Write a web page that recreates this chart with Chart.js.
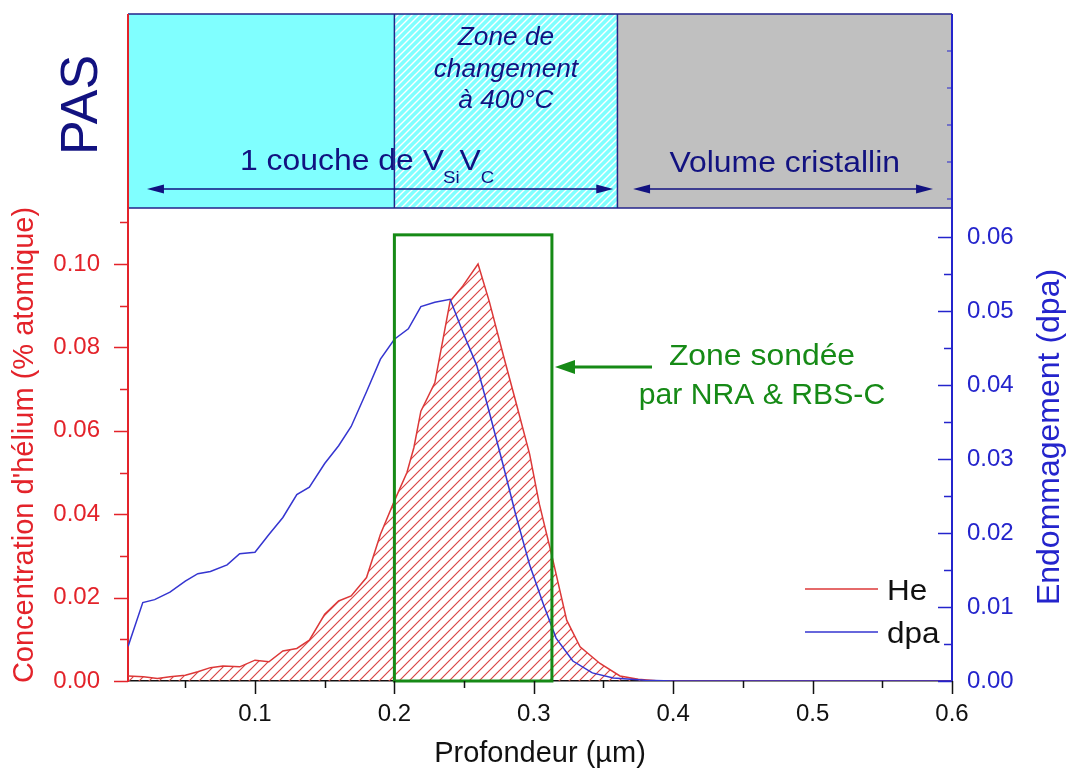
<!DOCTYPE html>
<html>
<head>
<meta charset="utf-8">
<script src="https://cdn.jsdelivr.net/npm/chart.js@4.4.0/dist/chart.umd.min.js"></script>
<style>
  html, body { margin: 0; padding: 0; background: #fff; }
  #grafico { display: block; }
</style>
</head>
<body>
<canvas id="grafico" width="1071" height="769"></canvas>
<script>
// profil He : profondeur (µm) / concentration (% atomique)
const profHe = [0.009, 0.02, 0.03, 0.039, 0.05, 0.059, 0.068, 0.077, 0.089, 0.100, 0.110, 0.120, 0.130, 0.139,
    0.150, 0.160, 0.169, 0.180, 0.190, 0.200, 0.209, 0.214, 0.219, 0.229, 0.240, 0.249, 0.260, 0.268, 0.278,
    0.287, 0.297, 0.304, 0.313, 0.3236, 0.3332, 0.3475, 0.3618, 0.375, 0.39, 0.45, 0.5, 0.6];
const valHe = [0.0012, 0.0010, 0.0006, 0.0010, 0.0014, 0.0022, 0.0032, 0.0036, 0.0034, 0.0050, 0.0046, 0.0072, 0.0078, 0.0098,
    0.0160, 0.0192, 0.0204, 0.0248, 0.0352, 0.0432, 0.0500, 0.0560, 0.0647, 0.0715, 0.0911, 0.0947, 0.1000, 0.0911, 0.0783,
    0.0671, 0.0544, 0.0424, 0.0300, 0.0146, 0.0082, 0.0042, 0.0012, 0.0004, 0, 0, 0, 0];

// profil de dommages : profondeur (µm) / dpa
const profDpa = [0.009, 0.0195, 0.028, 0.039, 0.050, 0.059, 0.068, 0.080, 0.089, 0.100, 0.110, 0.120, 0.130, 0.139,
    0.150, 0.160, 0.169, 0.180, 0.190, 0.200, 0.210, 0.219, 0.229, 0.240, 0.249, 0.259, 0.268, 0.278, 0.287,
    0.297, 0.307, 0.316, 0.328, 0.342, 0.357, 0.38, 0.40, 0.5, 0.6];
const valDpa = [0.0047, 0.0106, 0.0110, 0.0120, 0.0135, 0.0145, 0.0148, 0.0157, 0.0172, 0.0174, 0.0198, 0.0221, 0.0252, 0.0262,
    0.0294, 0.0318, 0.0344, 0.0391, 0.0435, 0.0462, 0.0476, 0.0506, 0.0512, 0.0516, 0.0472, 0.0427, 0.0364, 0.0292, 0.0225,
    0.0157, 0.0103, 0.0058, 0.0027, 0.0011, 0.0004, 0.0001, 0, 0, 0];

// graduations
const xTicks = [0.1, 0.2, 0.3, 0.4, 0.5, 0.6];
const xMinor = [0.05, 0.15, 0.25, 0.35, 0.45, 0.55];
const heTicks = [0, 0.02, 0.04, 0.06, 0.08, 0.10];
const heMinor = [0.01, 0.03, 0.05, 0.07, 0.09, 0.11];
const dpaTicks = [0, 0.01, 0.02, 0.03, 0.04, 0.05, 0.06];
const dpaMinor = [0.005, 0.015, 0.025, 0.035, 0.045, 0.055];

// bandeau PAS : limites des zones en profondeur
const zoneLimites = [0.0089, 0.2, 0.36, 0.6];
const flecheCouche = [0.0225, 0.357];
const flecheVolume = [0.3712, 0.5864];
// zone sondée NRA / RBS-C
const zoneSondee = [0.2, 0.313];
const zoneSondeeHaut = 0.107;
const flecheSondee = [0.3848, 0.3152];   // queue -> pointe
const flecheSondeeY = 0.0753;

const police = "'Liberation Sans', Arial, sans-serif";
const rouge = '#e3232a';
const bleu = '#2424cc';
const marine = '#121280';
const vert = '#168a16';

const ctxPrincipal = document.getElementById('grafico').getContext('2d');

function hachures(couleur, fond, pas, ep) {
    const c = document.createElement('canvas');
    c.width = pas; c.height = pas;
    const g = c.getContext('2d');
    if (fond) { g.fillStyle = fond; g.fillRect(0, 0, pas, pas); }
    g.strokeStyle = couleur; g.lineWidth = ep;
    g.beginPath();
    g.moveTo(-1, pas + 1); g.lineTo(pas + 1, -1);
    g.moveTo(-1, 1); g.lineTo(1, -1);
    g.moveTo(pas - 1, pas + 1); g.lineTo(pas + 1, pas - 1);
    g.stroke();
    return ctxPrincipal.createPattern(c, 'repeat');
}

const motifHe = hachures('#d94545', null, 10, 1.2);
const motifBande = hachures('#ffffff', '#80ffff', 7, 1.4);

function texte(ctx, str, x, y, font, color, align, sx) {
    ctx.save();
    ctx.font = font;
    ctx.fillStyle = color;
    ctx.textBaseline = 'alphabetic';
    ctx.textAlign = 'left';
    const w = ctx.measureText(str).width * sx;
    let x0 = x;
    if (align === 'center') x0 = x - w / 2;
    else if (align === 'right') x0 = x - w;
    ctx.translate(x0, y);
    ctx.scale(sx, 1);
    ctx.fillText(str, 0, 0);
    ctx.restore();
    return w;
}

function texteVertical(ctx, str, x, y, font, color) {
    ctx.save();
    ctx.translate(x, y);
    ctx.rotate(-Math.PI / 2);
    ctx.font = font;
    ctx.fillStyle = color;
    ctx.textAlign = 'center';
    ctx.textBaseline = 'middle';
    ctx.fillText(str, 0, 0);
    ctx.restore();
}

function pointe(ctx, xTip, y, dir, long, demi) {
    ctx.beginPath();
    ctx.moveTo(xTip, y);
    ctx.lineTo(xTip - dir * long, y - demi);
    ctx.lineTo(xTip - dir * long, y + demi);
    ctx.closePath();
    ctx.fill();
}

function traits(ctx, scale, valeurs, long, couleur, cote) {
    const area = scale.chart.chartArea;
    ctx.save();
    ctx.strokeStyle = couleur;
    ctx.lineWidth = 1.5;
    ctx.beginPath();
    valeurs.forEach(function (v) {
        const p = Math.round(scale.getPixelForValue(v)) + 0.5;
        if (cote === 'gauche') { ctx.moveTo(area.left, p); ctx.lineTo(area.left - long, p); }
        else if (cote === 'droite') { ctx.moveTo(area.right, p); ctx.lineTo(area.right - long, p); }
        else { ctx.moveTo(p, area.bottom); ctx.lineTo(p, area.bottom + long); }
    });
    ctx.stroke();
    ctx.restore();
}

const decor = {
    id: 'decor',
    afterDatasetsDraw(chart) {
        const ctx = chart.ctx;
        const x = chart.scales.x, yHe = chart.scales.yHe;
        ctx.save();
        // cadre de la zone sondée
        const gx1 = x.getPixelForValue(zoneSondee[0]), gx2 = x.getPixelForValue(zoneSondee[1]);
        const gy1 = yHe.getPixelForValue(zoneSondeeHaut), gy2 = yHe.getPixelForValue(0);
        ctx.strokeStyle = vert; ctx.fillStyle = vert; ctx.lineWidth = 3;
        ctx.strokeRect(gx1, gy1, gx2 - gx1, gy2 - gy1);
        // flèche verte
        const fy = yHe.getPixelForValue(flecheSondeeY);
        const fq = x.getPixelForValue(flecheSondee[0]), fp = x.getPixelForValue(flecheSondee[1]);
        ctx.beginPath(); ctx.moveTo(fq, fy); ctx.lineTo(fp + 15, fy); ctx.stroke();
        pointe(ctx, fp, fy, -1, 20, 7);
        texte(ctx, 'Zone sondée', 762, fy - 2, '29px ' + police, vert, 'center', 1.1);
        texte(ctx, 'par NRA & RBS-C', 762, fy + 37, '29px ' + police, vert, 'center', 1.04);
        ctx.restore();
    },
    afterDraw(chart) {
        const ctx = chart.ctx;
        const area = chart.chartArea;
        const x = chart.scales.x;
        const bandeHaut = 14, bandeBas = area.top - 1;
        const xs = zoneLimites.map(v => x.getPixelForValue(v));

        ctx.save();
        // bandeau PAS
        ctx.fillStyle = '#80ffff';
        ctx.fillRect(xs[0], bandeHaut, xs[1] - xs[0], bandeBas - bandeHaut);
        ctx.fillStyle = motifBande;
        ctx.fillRect(xs[1], bandeHaut, xs[2] - xs[1], bandeBas - bandeHaut);
        ctx.fillStyle = '#c0c0c0';
        ctx.fillRect(xs[2], bandeHaut, xs[3] - xs[2], bandeBas - bandeHaut);
        ctx.strokeStyle = '#23238a'; ctx.lineWidth = 1.5;
        ctx.beginPath();
        ctx.moveTo(xs[0], bandeHaut); ctx.lineTo(xs[3], bandeHaut);
        ctx.moveTo(xs[0], bandeBas); ctx.lineTo(xs[3], bandeBas);
        ctx.moveTo(xs[1], bandeHaut); ctx.lineTo(xs[1], bandeBas);
        ctx.moveTo(xs[2], bandeHaut); ctx.lineTo(xs[2], bandeBas);
        ctx.stroke();
        ctx.strokeStyle = rouge; ctx.lineWidth = 2;
        ctx.beginPath(); ctx.moveTo(xs[0], bandeHaut); ctx.lineTo(xs[0], area.top); ctx.stroke();
        ctx.strokeStyle = bleu;
        ctx.beginPath(); ctx.moveTo(xs[3], bandeHaut); ctx.lineTo(xs[3], area.top); ctx.stroke();
        ctx.lineWidth = 1.2;
        ctx.beginPath();
        for (let i = 0; i < 5; i++) {
            const ty = bandeBas - 9 - i * 37;
            ctx.moveTo(xs[3], ty); ctx.lineTo(xs[3] - 5, ty);
        }
        ctx.stroke();

        // textes du bandeau
        const milieu = (xs[1] + xs[2]) / 2;
        const fIt = 'italic 25px ' + police;
        texte(ctx, 'Zone de', milieu, bandeHaut + 31, fIt, marine, 'center', 1.05);
        texte(ctx, 'changement', milieu, bandeHaut + 63, fIt, marine, 'center', 1.05);
        texte(ctx, 'à 400°C', milieu, bandeHaut + 94, fIt, marine, 'center', 1.05);

        const fG = '29px ' + police, fP = '17px ' + police;
        const yb = bandeHaut + 156;
        let cx = 240;
        cx += texte(ctx, '1 couche de V', cx, yb, fG, marine, 'left', 1.1);
        cx -= 1;
        cx += texte(ctx, 'Si', cx, yb + 13, fP, marine, 'left', 1.1);
        cx += texte(ctx, 'V', cx, yb, fG, marine, 'left', 1.1);
        texte(ctx, 'C', cx, yb + 13, fP, marine, 'left', 1.1);
        texte(ctx, 'Volume cristallin', (xs[2] + xs[3]) / 2, yb + 2, fG, marine, 'center', 1.1);

        // flèches du bandeau
        const ya = bandeHaut + 175;
        ctx.strokeStyle = marine; ctx.fillStyle = marine; ctx.lineWidth = 1.5;
        [flecheCouche, flecheVolume].forEach(function (f) {
            const a = x.getPixelForValue(f[0]), b = x.getPixelForValue(f[1]);
            ctx.beginPath(); ctx.moveTo(a + 10, ya); ctx.lineTo(b - 10, ya); ctx.stroke();
            pointe(ctx, a, ya, -1, 17, 4.5);
            pointe(ctx, b, ya, 1, 17, 4.5);
        });

        texteVertical(ctx, 'PAS', 83, 105, '52px ' + police, marine);
        texteVertical(ctx, 'Endommagement (dpa)', 1050, 437, '32px ' + police, bleu);

        // graduations
        traits(ctx, chart.scales.yHe, heTicks, 14, rouge, 'gauche');
        traits(ctx, chart.scales.yHe, heMinor, 8, rouge, 'gauche');
        traits(ctx, chart.scales.yDpa, dpaTicks, 14, bleu, 'droite');
        traits(ctx, chart.scales.yDpa, dpaMinor, 8, bleu, 'droite');
        traits(ctx, x, xTicks, 13, '#111', 'bas');
        traits(ctx, x, xMinor, 7, '#111', 'bas');

        // légende
        const lx = area.right - 147, ly = area.bottom - 92;
        const items = [chart.data.datasets[1], chart.data.datasets[0]];
        items.forEach(function (ds, i) {
            const yy = ly + i * 43;
            ctx.strokeStyle = ds.borderColor; ctx.lineWidth = 1.5;
            ctx.beginPath(); ctx.moveTo(lx, yy); ctx.lineTo(lx + 73, yy); ctx.stroke();
            texte(ctx, ds.label, lx + 82, yy + 11, '30px ' + police, '#111', 'left', 1.05);
        });
        ctx.restore();
    }
};

new Chart(ctxPrincipal, {
    type: 'line',
    data: {
        datasets: [
            {
                label: 'dpa',
                data: profDpa.map((p, i) => ({ x: p, y: valDpa[i] })),
                yAxisID: 'yDpa',
                borderColor: '#3535d0',
                borderWidth: 1.5,
                pointRadius: 0,
                fill: false,
                tension: 0
            },
            {
                label: 'He',
                data: profHe.map((p, i) => ({ x: p, y: valHe[i] })),
                yAxisID: 'yHe',
                borderColor: '#dc3838',
                backgroundColor: motifHe,
                borderWidth: 1.5,
                pointRadius: 0,
                fill: 'origin',
                tension: 0
            }
        ]
    },
    options: {
        responsive: false,
        animation: false,
        devicePixelRatio: 1,
        layout: { padding: { top: 209, left: 0, right: 0, bottom: 0 } },
        plugins: {
            legend: { display: false },
            tooltip: { enabled: false }
        },
        scales: {
            x: {
                type: 'linear',
                min: zoneLimites[0],
                max: 0.6,
                afterBuildTicks: function (s) { s.ticks = xTicks.map(v => ({ value: v })); },
                afterFit: function (s) { s.height = 88; },
                ticks: {
                    color: '#111', autoSkip: false, maxRotation: 0, padding: 5,
                    font: { family: police, size: 24 },
                    callback: function (v) { return v.toFixed(1); }
                },
                grid: { display: false, drawTicks: true, tickLength: 14 },
                border: { color: '#111', width: 1.5 },
                title: {
                    display: true, text: 'Profondeur (µm)', color: '#111',
                    font: { family: police, size: 29, lineHeight: 1 },
                    padding: { top: 0, bottom: 1 }
                }
            },
            yHe: {
                type: 'linear',
                position: 'left',
                min: 0,
                max: 0.1132,
                afterBuildTicks: function (s) { s.ticks = heTicks.map(v => ({ value: v })); },
                afterFit: function (s) { s.width = 128; },
                ticks: {
                    color: rouge, padding: 14,
                    font: { family: police, size: 24 },
                    callback: function (v) { return v.toFixed(2); }
                },
                grid: { display: false, drawTicks: true, tickLength: 14 },
                border: { color: rouge, width: 2 },
                title: {
                    display: true, text: "Concentration d'hélium (% atomique)", color: rouge,
                    font: { family: police, size: 29, lineHeight: 1 },
                    padding: { top: 10, bottom: 0 }
                }
            },
            yDpa: {
                type: 'linear',
                position: 'right',
                min: 0,
                max: 0.0638,
                afterBuildTicks: function (s) { s.ticks = dpaTicks.map(v => ({ value: v })); },
                afterFit: function (s) { s.width = 119; },
                ticks: {
                    color: bleu, padding: 15,
                    font: { family: police, size: 24 },
                    callback: function (v) { return v.toFixed(2); }
                },
                grid: { display: false, drawTicks: false },
                border: { color: bleu, width: 2 }
            }
        }
    },
    plugins: [decor]
});
</script>
</body>
</html>
